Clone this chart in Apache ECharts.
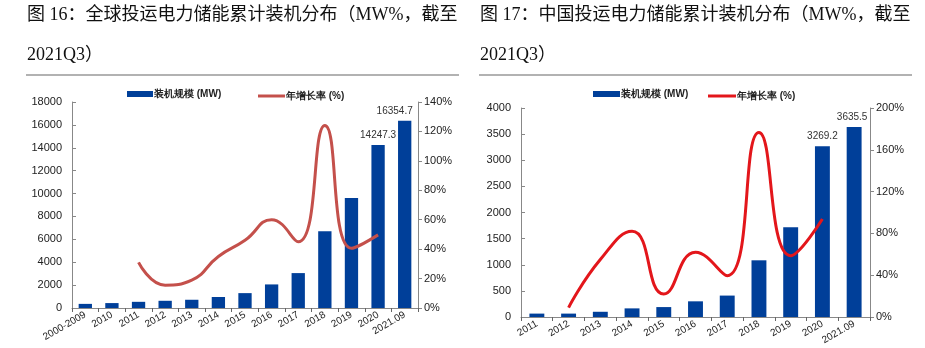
<!DOCTYPE html>
<html><head><meta charset="utf-8">
<script src="https://cdn.jsdelivr.net/npm/echarts@6/dist/echarts.min.js"></script>
<style>html,body{margin:0;padding:0;background:#fff}#c{width:925px;height:348px}</style>
</head><body><div id="c"></div>
<script>
// Left chart: global
var catsG = ['2000-2009','2010','2011','2012','2013','2014','2015','2016','2017','2018','2019','2020','2021.09'];
var capG = [360, 430, 540, 630, 720, 960, 1300, 2060, 3050, 6700, 9610, 14247.3, 16354.7];
var rateG = [null, null, 31, 15.5, 19, 35, 46, 60, 45, 124, 40.6, 49.7, null];
// Right chart: China
var catsC = ['2011','2012','2013','2014','2015','2016','2017','2018','2019','2020','2021.09'];
var capC = [65, 65, 100, 165, 190, 300, 410, 1085, 1720, 3269.2, 3635.5];
var rateC = [null, 9, 55, 82, 22, 62, 39.5, 176.6, 58.7, 93.8, null];

var titleG1 = '图 16：全球投运电力储能累计装机分布（MW%，截至';
var titleC1 = '图 17：中国投运电力储能累计装机分布（MW%，截至';
var title2 = '2021Q3）';

var BLUE = '#003f99';
var font = 'Liberation Sans, Arial, sans-serif';
var titleFont = '18px "Liberation Serif", "Noto Sans CJK SC", serif';

function barData(arr, lastOffset){
  return arr.map(function(v,i){
    if (i === arr.length-1) return {value:v, label:{show:true, offset:lastOffset}};
    if (i === arr.length-2) return {value:v, label:{show:true}};
    return v;
  });
}
function yLeft(grid, max, interval){
  return {type:'value', gridIndex:grid, min:0, max:max, interval:interval,
    splitLine:{show:false},
    axisLine:{show:true, lineStyle:{color:'#888'}},
    axisTick:{show:true, inside:true, length:4, lineStyle:{color:'#888'}},
    axisLabel:{color:'#222', fontSize:11, fontFamily:font, margin:10, formatter:function(v){return String(v);}}};
}
function yRight(grid, max, interval){
  return {type:'value', gridIndex:grid, position:'right', min:0, max:max, interval:interval,
    splitLine:{show:false},
    axisLine:{show:true, lineStyle:{color:'#888'}},
    axisTick:{show:true, length:4, lineStyle:{color:'#888'}},
    axisLabel:{color:'#222', fontSize:11, fontFamily:font, margin:6, formatter:'{value}%'}};
}
function xAx(grid, cats){
  return {type:'category', gridIndex:grid, data:cats,
    axisLine:{lineStyle:{color:'#888'}},
    axisTick:{show:true, length:4, lineStyle:{color:'#666'}},
    axisLabel:{color:'#222', fontSize:10, fontFamily:font, rotate:30, margin:6, interval:0}};
}
var labelCfg = {show:false, position:'top', distance:5, color:'#333', fontSize:10, fontFamily:font,
  formatter:function(p){return p.value.toFixed(1);}};
var legText = {fontSize:10, fontWeight:'bold', color:'#222', fontFamily:font, padding:[0,0,0,-4]};

var chart = echarts.init(document.getElementById('c'));
chart.setOption({
  animation:false,
  graphic:[
    {type:'text', left:27, top:6, style:{text:titleG1, font:titleFont, fill:'#111'}},
    {type:'text', left:27, top:46, style:{text:title2, font:titleFont, fill:'#111'}},
    {type:'line', shape:{x1:26, y1:75, x2:459, y2:75}, style:{stroke:'#999', lineWidth:1.5}},
    {type:'text', left:480, top:6, style:{text:titleC1, font:titleFont, fill:'#111'}},
    {type:'text', left:480, top:46, style:{text:title2, font:titleFont, fill:'#111'}},
    {type:'line', shape:{x1:479, y1:75, x2:912, y2:75}, style:{stroke:'#999', lineWidth:1.5}}
  ],
  legend:[
    {left:127, top:89, padding:0, itemWidth:26, itemHeight:6, icon:'rect', textStyle:legText,
     data:['装机规模 (MW)']},
    {left:258, top:91, padding:0, itemWidth:27, itemHeight:3, icon:'rect', textStyle:legText,
     data:['年增长率 (%)']},
    {left:593, top:89, padding:0, itemWidth:27, itemHeight:6, icon:'rect', textStyle:legText,
     data:['装机规模 (MW) ']},
    {left:708, top:91, padding:0, itemWidth:28, itemHeight:3, icon:'rect', textStyle:legText,
     data:['年增长率 (%) ']}
  ],
  grid:[
    {left:72, right:507, top:102, bottom:40},
    {left:521, right:55, top:108, bottom:31}
  ],
  xAxis:[xAx(0, catsG), xAx(1, catsC)],
  yAxis:[yLeft(0, 18000, 2000), yRight(0, 140, 20), yLeft(1, 4000, 500), yRight(1, 200, 40)],
  series:[
    {name:'装机规模 (MW)', type:'bar', xAxisIndex:0, yAxisIndex:0, data:barData(capG, [-10,0]),
     barWidth:'50%', itemStyle:{color:BLUE}, label:labelCfg},
    {name:'年增长率 (%)', type:'line', xAxisIndex:0, yAxisIndex:1, data:rateG,
     smooth:0.5, symbol:'none', lineStyle:{color:'#c4504b', width:3}, itemStyle:{color:'#c4504b'}},
    {name:'装机规模 (MW) ', type:'bar', xAxisIndex:1, yAxisIndex:2, data:barData(capC, [-2,0]),
     barWidth:'47%', itemStyle:{color:BLUE}, label:labelCfg},
    {name:'年增长率 (%) ', type:'line', xAxisIndex:1, yAxisIndex:3, data:rateC,
     smooth:0.5, symbol:'none', lineStyle:{color:'#e3161b', width:3}, itemStyle:{color:'#e3161b'}}
  ]
});
</script></body></html>
